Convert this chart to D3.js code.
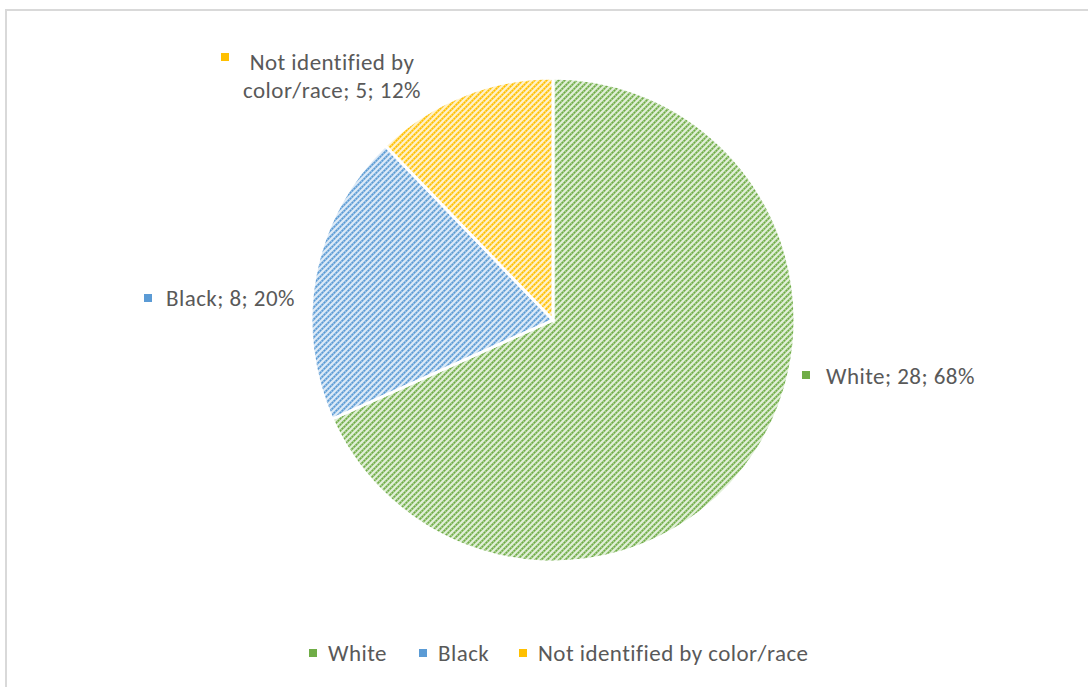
<!DOCTYPE html>
<html>
<head>
<meta charset="utf-8">
<script src="https://cdn.jsdelivr.net/npm/d3@7"></script>
<style>
  body { margin: 0; background: #fff; }
  svg { display: block; font-family: Carlito, Lato, "Noto Sans", sans-serif; }
</style>
</head>
<body>
<div id="chart"></div>
<script>
// Data
const categories = ["White", "Black", "Not identified by color/race"];
const counts = [28, 8, 5];
const percents = ["68%", "20%", "12%"];
const colors = ["#70AD47", "#5B9BD5", "#FFC000"];
const lightColors = ["#e2f0d9", "#deebf7", "#fff2cc"];

const width = 1088, height = 687;
const cx = 553, cy = 320, radius = 242;

const svg = d3.select("#chart").append("svg")
  .attr("width", width)
  .attr("height", height);

// Chart frame (runs off the right/bottom edge)
svg.append("rect")
  .attr("x", 6).attr("y", 10)
  .attr("width", 1100).attr("height", 700)
  .attr("fill", "#fff")
  .attr("stroke", "#d9d9d9")
  .attr("stroke-width", 2);

// Hatch patterns: pale diagonal stripe with darker dots along it
const defs = svg.append("defs");
const stripe = "M-1,7 L7,-1 M-4,4 L4,-4 M2,10 L10,2";
colors.forEach((c, i) => {
  const p = defs.append("pattern")
    .attr("id", "hatch" + i)
    .attr("patternUnits", "userSpaceOnUse")
    .attr("width", 6).attr("height", 6);
  p.append("rect").attr("width", 6).attr("height", 6).attr("fill", lightColors[i]);
  p.append("path")
    .attr("d", stripe)
    .attr("stroke", c)
    .attr("stroke-opacity", 0.55)
    .attr("stroke-width", 2.2);
  p.append("path")
    .attr("d", stripe)
    .attr("stroke", c)
    .attr("stroke-width", 1.8)
    .attr("stroke-dasharray", "1.4,1.4");
});

// Pie
const pie = d3.pie().sort(null).value(d => d);
const arc = d3.arc().innerRadius(0).outerRadius(radius);
const arcs = pie(counts);

const g = svg.append("g").attr("transform", `translate(${cx},${cy})`);
g.selectAll("path.slice")
  .data(arcs)
  .enter()
  .append("path")
  .attr("class", "slice")
  .attr("d", arc)
  .attr("fill", (d, i) => `url(#hatch${i})`)
  .attr("stroke", "#fff")
  .attr("stroke-width", 3);

// Data labels
const labelFont = 23;
const spacing = "0.45px";
const labels = [
  { lines: [`${categories[0]}; ${counts[0]}; ${percents[0]}`], x: 826, y: 384, mx: 806, my: 375, anchor: "start" },
  { lines: [`${categories[1]}; ${counts[1]}; ${percents[1]}`], x: 166, y: 306, mx: 148, my: 298, anchor: "start" },
  { lines: ["Not identified by", `color/race; ${counts[2]}; ${percents[2]}`], x: 332, y: 70, mx: 225, my: 57, anchor: "middle" }
];
labels.forEach((l, i) => {
  svg.append("rect")
    .attr("x", l.mx - 4).attr("y", l.my - 4)
    .attr("width", 8).attr("height", 8)
    .attr("fill", colors[i]);
  const t = svg.append("text")
    .attr("x", l.x).attr("y", l.y)
    .attr("text-anchor", l.anchor)
    .attr("fill", "#595959")
    .style("font-size", labelFont + "px")
    .style("letter-spacing", spacing);
  l.lines.forEach((s, j) => {
    t.append("tspan").attr("x", l.x).attr("dy", j === 0 ? 0 : 28).text(s);
  });
});

// Legend
const legendX = [313, 423, 523];
const legend = svg.append("g");
categories.forEach((c, i) => {
  legend.append("rect")
    .attr("x", legendX[i] - 4).attr("y", 649)
    .attr("width", 8).attr("height", 8)
    .attr("fill", colors[i]);
  legend.append("text")
    .attr("x", legendX[i] + 15).attr("y", 661)
    .attr("fill", "#595959")
    .style("font-size", labelFont + "px")
    .style("letter-spacing", spacing)
    .text(c);
});
</script>
</body>
</html>
